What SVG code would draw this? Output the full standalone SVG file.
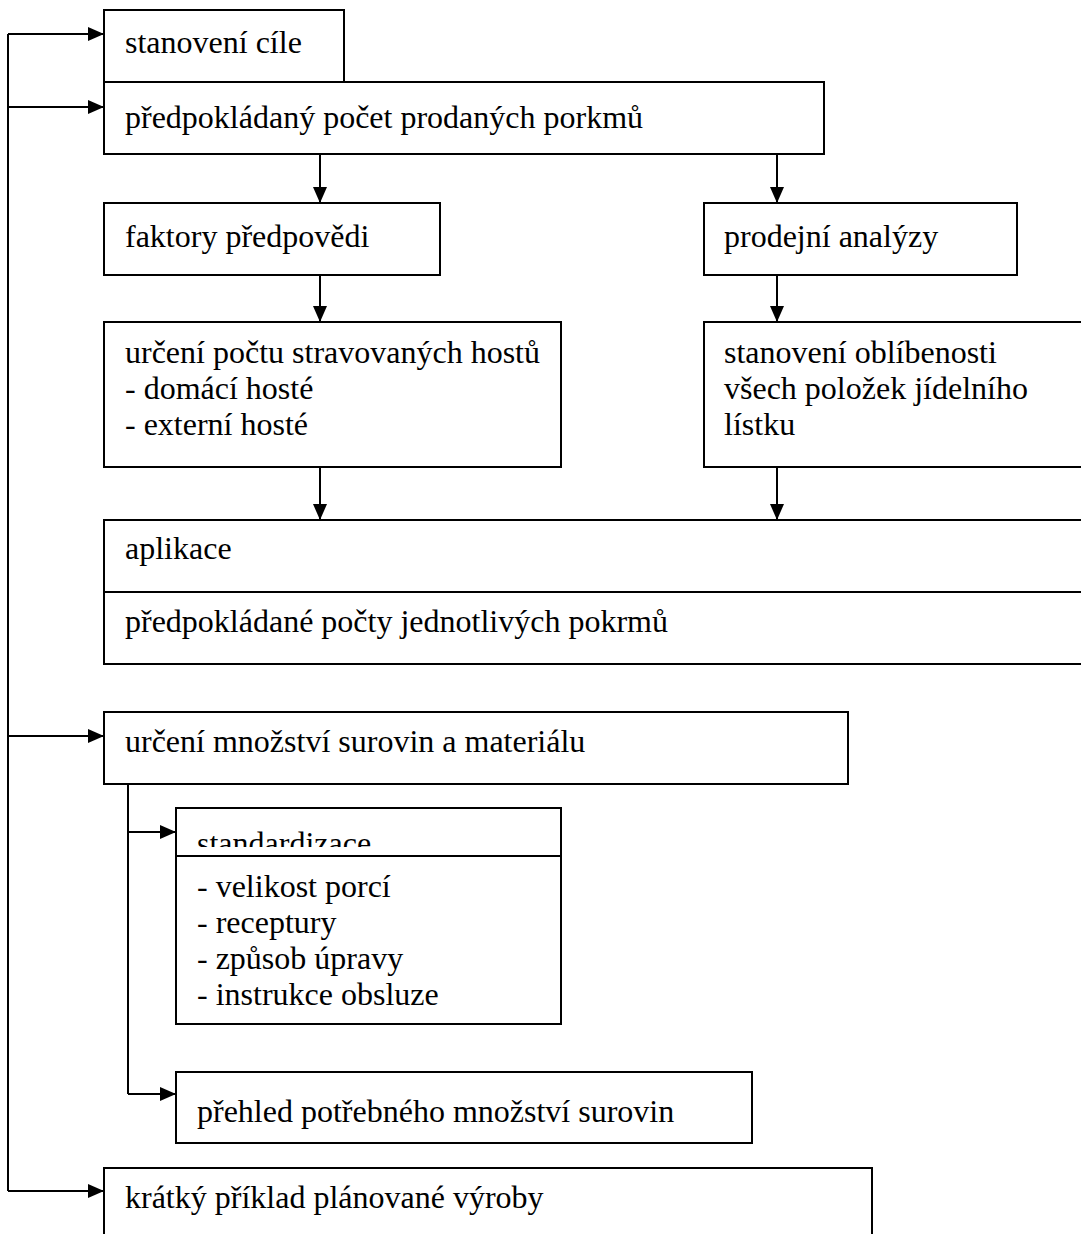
<svg xmlns="http://www.w3.org/2000/svg" width="1081" height="1234" viewBox="0 0 1081 1234">
<style>
.box{fill:#fff;stroke:#000;stroke-width:2}
.ln{fill:none;stroke:#000;stroke-width:2}
.t{font-family:"Liberation Serif","Times New Roman",serif;font-size:32px;fill:#000}
</style>
<defs>
<marker id="ah" markerUnits="userSpaceOnUse" markerWidth="17" markerHeight="14" refX="16" refY="7" orient="auto">
<path d="M0,0 L16,7 L0,14 z" fill="#000"/>
</marker>
<clipPath id="stdclip"><rect x="176" y="808" width="385" height="39"/></clipPath>
</defs>
<rect width="1081" height="1234" fill="#fff"/>

<g id="connectors">
<path class="ln" d="M8,34 V1191"/>
<path class="ln" d="M8,34 H104" marker-end="url(#ah)"/>
<path class="ln" d="M8,107 H104" marker-end="url(#ah)"/>
<path class="ln" d="M8,736 H104" marker-end="url(#ah)"/>
<path class="ln" d="M8,1191 H104" marker-end="url(#ah)"/>
<path class="ln" d="M320,154 V203" marker-end="url(#ah)"/>
<path class="ln" d="M777,154 V203" marker-end="url(#ah)"/>
<path class="ln" d="M320,275 V322" marker-end="url(#ah)"/>
<path class="ln" d="M777,275 V322" marker-end="url(#ah)"/>
<path class="ln" d="M320,467 V520" marker-end="url(#ah)"/>
<path class="ln" d="M777,467 V520" marker-end="url(#ah)"/>
<path class="ln" d="M128,784 V1094"/>
<path class="ln" d="M128,832 H176" marker-end="url(#ah)"/>
<path class="ln" d="M128,1094 H176" marker-end="url(#ah)"/>
</g>

<g id="n-cil">
<rect class="box" x="104" y="10" width="240" height="72"/>
<text class="t" x="125" y="53">stanovení cíle</text>
</g>

<g id="n-pocet">
<rect class="box" x="104" y="82" width="720" height="72"/>
<text class="t" x="125" y="128">předpokládaný počet prodaných porkmů</text>
</g>

<g id="n-faktory">
<rect class="box" x="104" y="203" width="336" height="72"/>
<text class="t" x="125" y="247">faktory předpovědi</text>
</g>

<g id="n-prodejni">
<rect class="box" x="704" y="203" width="313" height="72"/>
<text class="t" x="724" y="247">prodejní analýzy</text>
</g>

<g id="n-hoste">
<rect class="box" x="104" y="322" width="457" height="145"/>
<text class="t" x="125" y="363">určení počtu stravovaných hostů</text>
<text class="t" x="125" y="399">- domácí hosté</text>
<text class="t" x="125" y="435">- externí hosté</text>
</g>

<g id="n-oblibenost">
<rect class="box" x="704" y="322" width="400" height="145"/>
<text class="t" x="724" y="363">stanovení oblíbenosti</text>
<text class="t" x="724" y="399">všech položek jídelního</text>
<text class="t" x="724" y="435">lístku</text>
</g>

<g id="n-aplikace">
<rect class="box" x="104" y="520" width="1000" height="144"/>
<path class="ln" d="M104,592 H1104"/>
<text class="t" x="125" y="559">aplikace</text>
<text class="t" x="125" y="632">předpokládané počty jednotlivých pokrmů</text>
</g>

<g id="n-mnozstvi">
<rect class="box" x="104" y="712" width="744" height="72"/>
<text class="t" x="125" y="752">určení množství surovin a materiálu</text>
</g>

<g id="n-standardizace">
<rect class="box" x="176" y="808" width="385" height="216"/>
<path class="ln" d="M176,856 H561"/>
<text class="t" x="197" y="854" clip-path="url(#stdclip)">standardizace</text>
<text class="t" x="197" y="897">- velikost porcí</text>
<text class="t" x="197" y="933">- receptury</text>
<text class="t" x="197" y="969">- způsob úpravy</text>
<text class="t" x="197" y="1005">- instrukce obsluze</text>
</g>

<g id="n-prehled">
<rect class="box" x="176" y="1072" width="576" height="71"/>
<text class="t" x="197" y="1122">přehled potřebného množství surovin</text>
</g>

<g id="n-kratky">
<path class="box" d="M104,1240 V1168 H872 V1240"/>
<text class="t" x="125" y="1208">krátký příklad plánované výroby</text>
</g>
</svg>
